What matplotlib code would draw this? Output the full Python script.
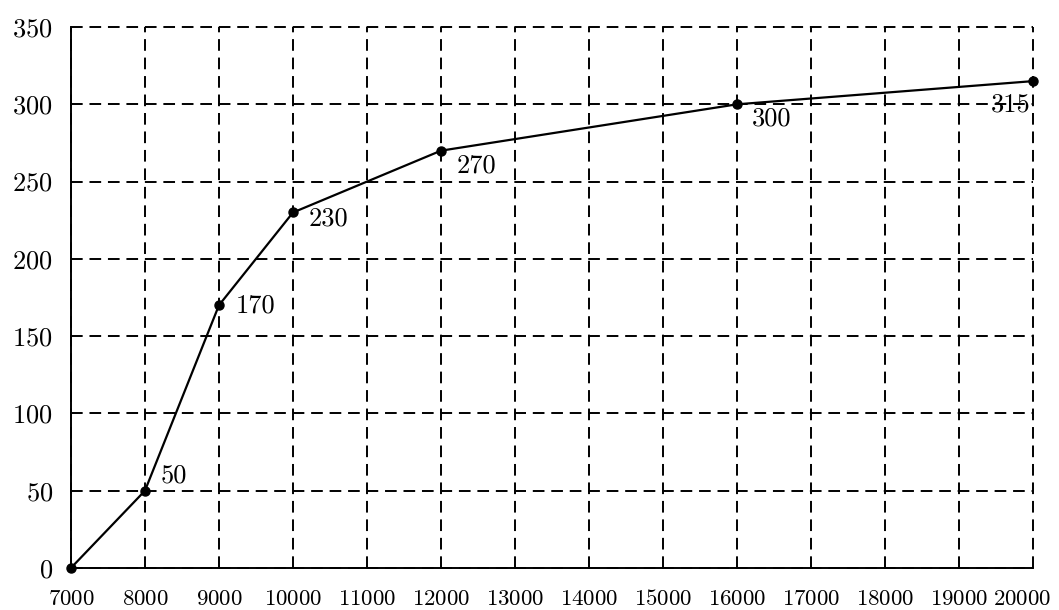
import matplotlib.pyplot as plt
from matplotlib.transforms import ScaledTranslation

# data
x_vals = [7000, 8000, 9000, 10000, 12000, 16000, 20000]
y_vals = [0, 50, 170, 230, 270, 300, 315]
point_labels = ["", "50", "170", "230", "270", "300", "315"]
# label offsets in points (dx, dy) and horizontal alignment
label_offsets = [(0, 0), (11, 11), (12, 0), (11, -4.5), (11, -11), (11, -10.5), (-2, -17)]
label_ha = ["left", "left", "left", "left", "left", "left", "right"]

x_ticks = list(range(7000, 20001, 1000))
y_ticks = list(range(0, 351, 50))

plt.rcParams['font.family'] = ['cmr10', 'DejaVu Serif']
plt.rcParams['axes.formatter.use_mathtext'] = True

fig = plt.figure(figsize=(10.59, 6.10), dpi=100)
ax = fig.add_axes([0.067, 0.0689, 0.9085, 0.8868])

ax.set_xlim(7000, 20000)
ax.set_ylim(0, 350)
ax.set_xticks(x_ticks)
ax.set_yticks(y_ticks)
ax.tick_params(length=0)
ax.tick_params(axis='x', pad=27, labelsize=16.5)
ax.tick_params(axis='y', pad=13, labelsize=19)

# baseline alignment keeps all x labels on one line
xlabels = ax.get_xticklabels()
for lab in xlabels:
    lab.set_va('baseline')
# the last label sits a little left so it stays inside the figure
xlabels[-1].set_transform(xlabels[-1].get_transform()
                          + ScaledTranslation(-8 / 72, 0, fig.dpi_scale_trans))

ax.grid(True, color='black', linestyle=(0, (6, 3.5)), linewidth=1.4)
ax.set_axisbelow(True)
for gl in ax.get_xgridlines() + ax.get_ygridlines():
    gl.set_clip_on(False)

ax.spines['top'].set_visible(False)
ax.spines['right'].set_visible(False)
ax.spines['left'].set_linewidth(1.4)
ax.spines['bottom'].set_linewidth(1.4)

ax.plot(x_vals, y_vals, color='black', linewidth=1.6, marker='o',
        markersize=6.5, clip_on=False, zorder=5)

for xv, yv, lab, off, ha in zip(x_vals, y_vals, point_labels, label_offsets, label_ha):
    if lab:
        ax.annotate(lab, (xv, yv), xytext=off, textcoords='offset points',
                    fontsize=19, ha=ha, va='center')

fig.savefig("out.png", dpi=100)
